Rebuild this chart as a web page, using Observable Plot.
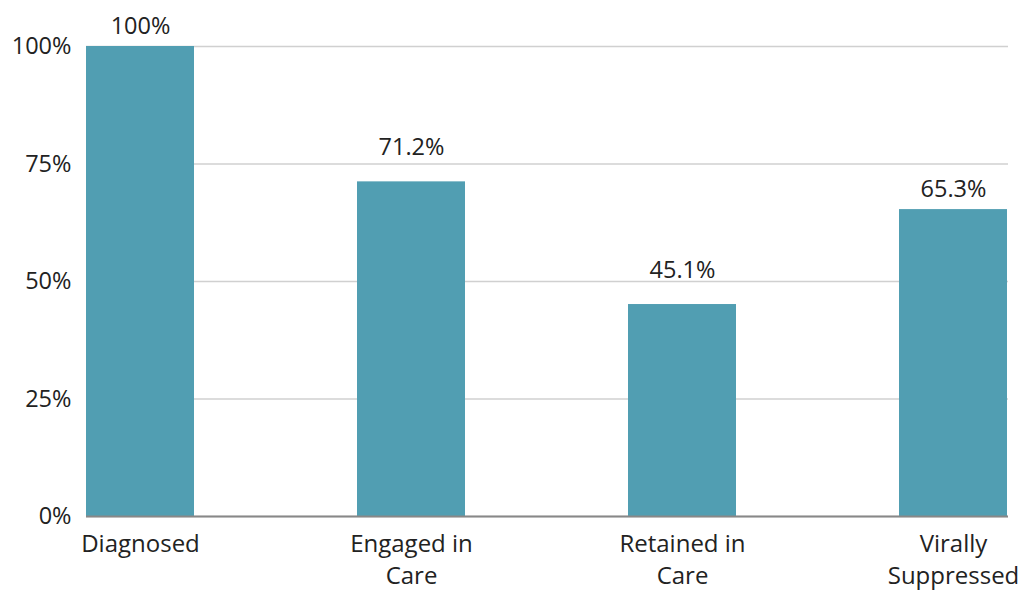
<!DOCTYPE html>
<html>
<head>
<meta charset="utf-8">
<script src="https://cdn.jsdelivr.net/npm/d3@7"></script>
<script src="https://cdn.jsdelivr.net/npm/@observablehq/plot@0.6"></script>
<style>
  html, body { margin: 0; padding: 0; background: #fff; }
  #chart svg { display: block; }
</style>
</head>
<body>
<div id="chart"></div>
<script>
const categories = ["Diagnosed", "Engaged in Care", "Retained in Care", "Virally Suppressed"];
const axisLabels = ["Diagnosed", "Engaged in\nCare", "Retained in\nCare", "Virally\nSuppressed"];
const values = [100, 71.2, 45.1, 65.3];
const valueLabels = ["100%", "71.2%", "45.1%", "65.3%"];
const yTicks = [0, 25, 50, 75, 100];

const data = categories.map((c, i) => ({cat: c, value: values[i], label: valueLabels[i]}));
const highLabel = new Set(["Engaged in Care", "Retained in Care"]);

const chart = Plot.plot({
  width: 1024,
  height: 590,
  marginLeft: 86,
  marginRight: 16,
  marginTop: 46,
  marginBottom: 74,
  style: {fontFamily: "'Open Sans', sans-serif", fontSize: "24px", color: "#222", background: "#fff"},
  x: {domain: categories, paddingInner: 0.6, paddingOuter: 0, label: null},
  y: {domain: [0, 100], label: null},
  marks: [
    Plot.gridY(yTicks, {stroke: "#d0d0d0", strokeOpacity: 1, strokeWidth: 1.5}),
    Plot.barY(data, {x: "cat", y: "value", fill: "#519eb2"}),
    Plot.ruleY([0], {stroke: "#888", strokeWidth: 2}),
    Plot.axisY(yTicks, {tickSize: 0, tickPadding: 15, tickFormat: d => d + "%", fontSize: 23.5, label: null}),
    Plot.axisX({tickSize: 0, tickPadding: 13, tickFormat: d => axisLabels[categories.indexOf(d)], lineHeight: 1.34, fontSize: 24, label: null}),
    Plot.text(data.filter(d => !highLabel.has(d.cat)), {x: "cat", y: "value", text: "label", lineAnchor: "bottom", dy: -13, fontSize: 23.5, fill: "#222"}),
    Plot.text(data.filter(d => highLabel.has(d.cat)), {x: "cat", y: "value", text: "label", lineAnchor: "bottom", dy: -27, fontSize: 23.5, fill: "#222"})
  ]
});
document.getElementById("chart").appendChild(chart);
</script>
</body>
</html>
